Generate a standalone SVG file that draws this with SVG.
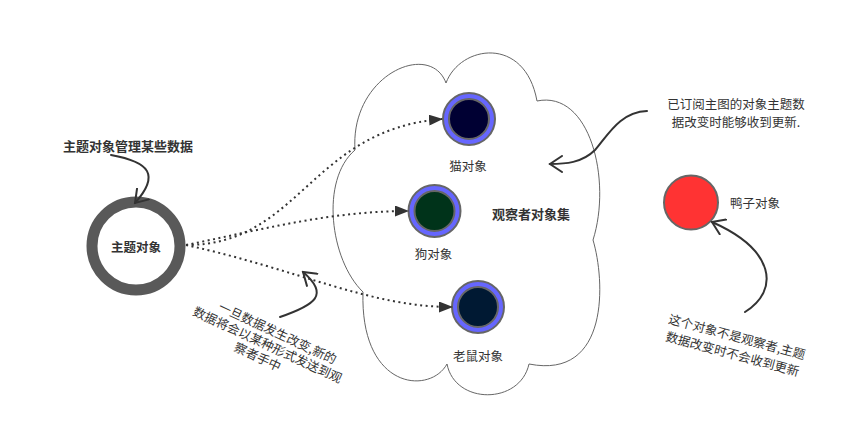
<svg xmlns="http://www.w3.org/2000/svg" width="866" height="442" viewBox="0 0 866 442">
<defs>
<style>
text{font-family:"Noto Sans CJK SC","Liberation Sans",sans-serif;fill:#333;dominant-baseline:central}
.lbl{font-size:12.5px;text-anchor:middle}
.note{font-size:12.5px;text-anchor:middle}
.bold{font-weight:bold;font-size:13px;text-anchor:middle}
.dot{fill:none;stroke:#333;stroke-width:2;stroke-dasharray:2 3.5;marker-end:url(#tri)}
.ann{fill:none;stroke:#333;stroke-width:2;stroke-linecap:round;marker-end:url(#open)}
.ring{fill:#6666ff;stroke:#666;stroke-width:2}
.core{stroke:#666;stroke-width:2}
</style>
<marker id="tri" viewBox="0 0 14 11" refX="13" refY="5.5" markerWidth="14" markerHeight="11" markerUnits="userSpaceOnUse" orient="auto">
<path d="M0,0 L14,5.5 L0,11 Z" fill="#333"/>
</marker>
<marker id="open" viewBox="0 0 15 18" refX="13" refY="9" markerWidth="15" markerHeight="18" markerUnits="userSpaceOnUse" orient="auto">
<path d="M1,1 L13,9 L1,17" fill="none" stroke="#333" stroke-width="2" stroke-linecap="round"/>
</marker>
</defs>
<rect width="866" height="442" fill="#fff"/>

<g id="observer-cloud">
<path d="M446,83 C460,45 525,35 537,101 C590,90 612,180 593,240 C605,280 610,380 529,364 C520,405 455,405 447,364 C430,395 360,390 363,292 C330,260 320,180 355,150 C350,75 430,40 446,83 Z" fill="#fff" stroke="#666" stroke-width="1"/>
<text class="bold" x="531" y="213">观察者对象集</text>
</g>

<g id="subject">
<circle cx="136" cy="246" r="44" fill="#fff" stroke="#595959" stroke-width="11"/>
<text class="bold" x="136" y="246" style="font-size:12.5px">主题对象</text>
</g>
<g id="subject-note">
<text class="bold" x="128" y="145">主题对象管理某些数据</text>
</g>

<g id="cat">
<circle class="ring" cx="469" cy="119" r="26"/>
<circle class="core" cx="469" cy="119" r="20" fill="#000033"/>
<text class="lbl" x="468" y="165">猫对象</text>
</g>
<g id="dog">
<circle class="ring" cx="434.5" cy="211" r="26"/>
<circle class="core" cx="434.5" cy="211" r="20" fill="#00331a"/>
<text class="lbl" x="433.5" y="253">狗对象</text>
</g>
<g id="mouse">
<circle class="ring" cx="478" cy="307" r="26"/>
<circle class="core" cx="478" cy="307" r="20" fill="#001933"/>
<text class="lbl" x="478" y="355">老鼠对象</text>
</g>
<g id="duck">
<circle cx="691" cy="202.5" r="27" fill="#ff3333" stroke="#666" stroke-width="2"/>
<text class="lbl" x="730" y="202" style="text-anchor:start">鸭子对象</text>
</g>

<g id="notes">
<g transform="translate(268,344) rotate(25)">
<text class="note" x="4" y="-15">一旦数据发生改变,新的</text>
<text class="note" x="0" y="0">数据将会以某种形式发送到观</text>
<text class="note" x="-4" y="15">察者手中</text>
</g>
<text class="note" x="736" y="103.5">已订阅主图的对象主题数</text>
<text class="note" x="736" y="121">据改变时能够收到更新.</text>
<g transform="translate(735,344.5) rotate(15)">
<text class="note" x="0" y="-8.8">这个对象不是观察者,主题</text>
<text class="note" x="0" y="8.8">数据改变时不会收到更新</text>
</g>
</g>

<g id="connectors">
<path class="dot" d="M186,245 C300,245 310,130 442,119"/>
<path class="dot" d="M186,245 C260,230 330,211 408,211"/>
<path class="dot" d="M186,245 C300,270 370,307 452,307"/>
<path class="ann" d="M111,155 C150,162 160,175 135,203"/>
<path class="ann" d="M280,317 C315,305 330,295 303,272"/>
<path class="ann" d="M647,111 C620,112 608,135 595,150 C582,163 565,164 550,164"/>
<path class="ann" d="M745,312 C780,290 775,250 712,222"/>
</g>
</svg>
